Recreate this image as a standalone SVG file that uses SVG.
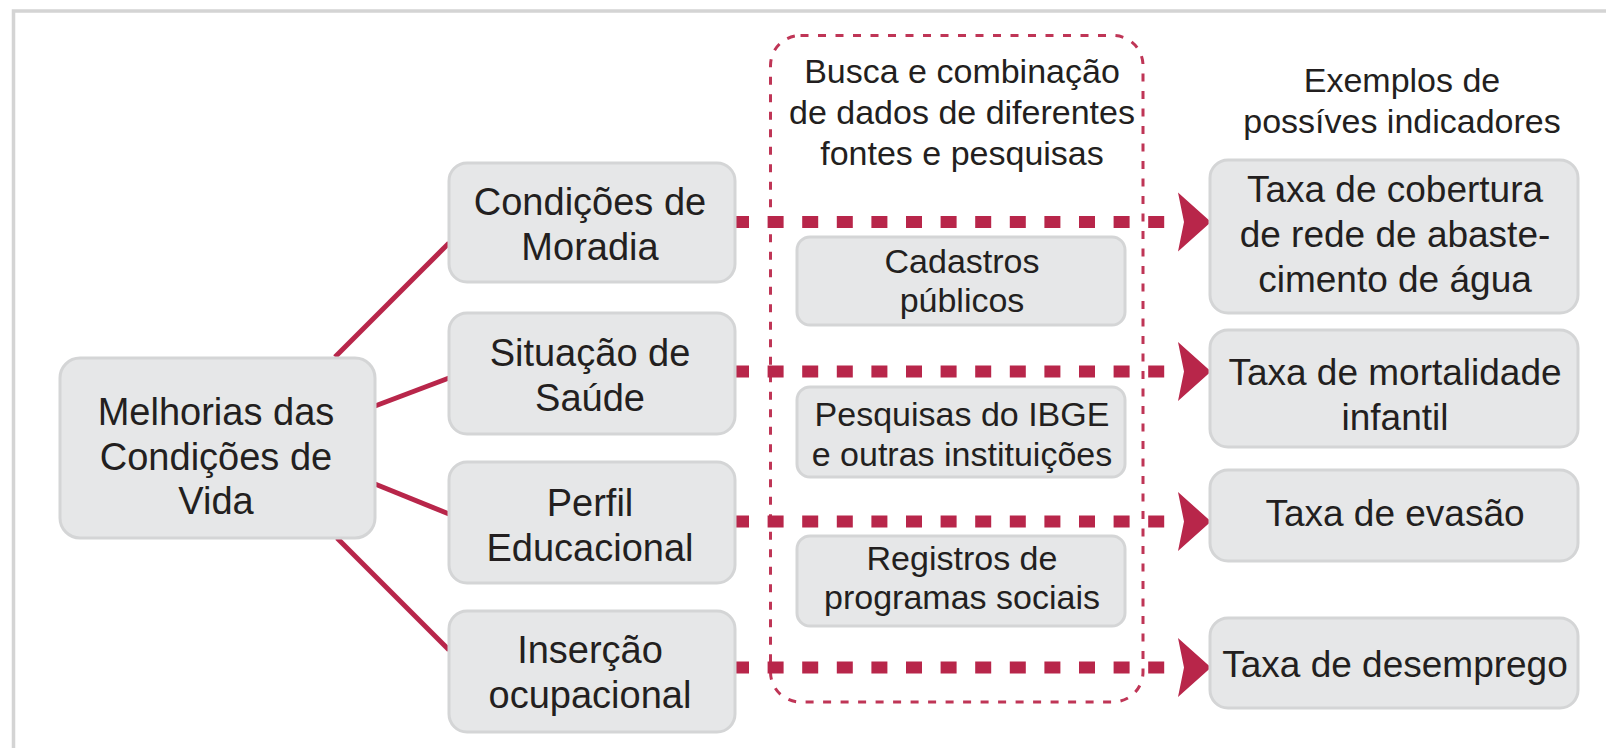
<svg xmlns="http://www.w3.org/2000/svg" width="1606" height="748" viewBox="0 0 1606 748">
<defs>
<style>
.frame{fill:none;stroke:#d4d4d4;stroke-width:3.5}
.box{fill:#e6e7e8;stroke:#d4d5d6;stroke-width:3}
.t{font-family:"Liberation Sans",Arial,sans-serif;fill:#231f20;text-anchor:middle}
.big{font-size:38px}
.mid{font-size:34px}
.rt{font-size:37px}
.solid{stroke:#b8264a;stroke-width:5;fill:none}
.dash{stroke:#b8264a;stroke-width:12;fill:none;stroke-dasharray:16 18.6}
.cont{fill:none;stroke:#bf3556;stroke-width:3;stroke-dasharray:8 9.5}
.head{fill:#b8264a}
</style>
<polygon id="arrowhead" points="-33,-29.5 0,0 -33,29.5 -27,0"/>
</defs>
<rect width="1606" height="748" fill="#ffffff"/>
<path class="frame" d="M13.5,748 V11 H1606"/>

<g id="container">
<rect class="cont" x="770.5" y="35.5" width="372.5" height="666.5" rx="30"/>
<text class="t mid" x="962" y="83">Busca e combinação</text>
<text class="t mid" x="962" y="124">de dados de diferentes</text>
<text class="t mid" x="962" y="165">fontes e pesquisas</text>
</g>

<g id="label-exemplos">
<text class="t mid" x="1402" y="92">Exemplos de</text>
<text class="t mid" x="1402" y="133">possíves indicadores</text>
</g>

<g id="connectors">
<line class="solid" x1="335" y1="357" x2="449" y2="243"/>
<line class="solid" x1="375" y1="406" x2="449" y2="378"/>
<line class="solid" x1="375" y1="484" x2="449" y2="514"/>
<line class="solid" x1="337" y1="538" x2="449" y2="650"/>
<line class="dash" x1="733" y1="222" x2="1165" y2="222"/>
<line class="dash" x1="733" y1="371.5" x2="1165" y2="371.5"/>
<line class="dash" x1="733" y1="521.5" x2="1165" y2="521.5"/>
<line class="dash" x1="733" y1="667.5" x2="1165" y2="667.5"/>
<use href="#arrowhead" class="head" x="1211" y="222"/>
<use href="#arrowhead" class="head" x="1211" y="371.5"/>
<use href="#arrowhead" class="head" x="1211" y="521.5"/>
<use href="#arrowhead" class="head" x="1211" y="667.5"/>
</g>

<g id="node-melhorias">
<rect class="box" x="60" y="358" width="315" height="180" rx="20"/>
<text class="t big" x="216" y="425">Melhorias das</text>
<text class="t big" x="216" y="470">Condições de</text>
<text class="t big" x="216" y="514">Vida</text>
</g>

<g id="node-moradia">
<rect class="box" x="449" y="163" width="286" height="119" rx="18"/>
<text class="t big" x="590" y="215">Condições de</text>
<text class="t big" x="590" y="260">Moradia</text>
</g>
<g id="node-saude">
<rect class="box" x="449" y="313" width="286" height="121" rx="18"/>
<text class="t big" x="590" y="366">Situação de</text>
<text class="t big" x="590" y="411">Saúde</text>
</g>
<g id="node-perfil">
<rect class="box" x="449" y="462" width="286" height="121" rx="18"/>
<text class="t big" x="590" y="516">Perfil</text>
<text class="t big" x="590" y="561">Educacional</text>
</g>
<g id="node-insercao">
<rect class="box" x="449" y="611" width="286" height="121" rx="18"/>
<text class="t big" x="590" y="663">Inserção</text>
<text class="t big" x="590" y="708">ocupacional</text>
</g>

<g id="node-cadastros">
<rect class="box" x="797" y="237" width="328" height="88" rx="13"/>
<text class="t mid" x="962" y="273">Cadastros</text>
<text class="t mid" x="962" y="312">públicos</text>
</g>
<g id="node-pesquisas">
<rect class="box" x="797" y="387" width="328" height="90" rx="13"/>
<text class="t mid" x="962" y="426">Pesquisas do IBGE</text>
<text class="t mid" x="962" y="466">e outras instituições</text>
</g>
<g id="node-registros">
<rect class="box" x="797" y="536" width="328" height="90" rx="13"/>
<text class="t mid" x="962" y="570">Registros de</text>
<text class="t mid" x="962" y="609">programas sociais</text>
</g>

<g id="node-cobertura">
<rect class="box" x="1210" y="160" width="368" height="153" rx="18"/>
<text class="t rt" x="1395" y="202">Taxa de cobertura</text>
<text class="t rt" x="1395" y="247">de rede de abaste-</text>
<text class="t rt" x="1395" y="292">cimento de água</text>
</g>
<g id="node-mortalidade">
<rect class="box" x="1210" y="330" width="368" height="117" rx="18"/>
<text class="t rt" x="1395" y="385">Taxa de mortalidade</text>
<text class="t rt" x="1395" y="430">infantil</text>
</g>
<g id="node-evasao">
<rect class="box" x="1210" y="470" width="368" height="91" rx="18"/>
<text class="t rt" x="1395" y="526">Taxa de evasão</text>
</g>
<g id="node-desemprego">
<rect class="box" x="1210" y="618" width="368" height="90" rx="18"/>
<text class="t rt" x="1395" y="677">Taxa de desemprego</text>
</g>
</svg>
